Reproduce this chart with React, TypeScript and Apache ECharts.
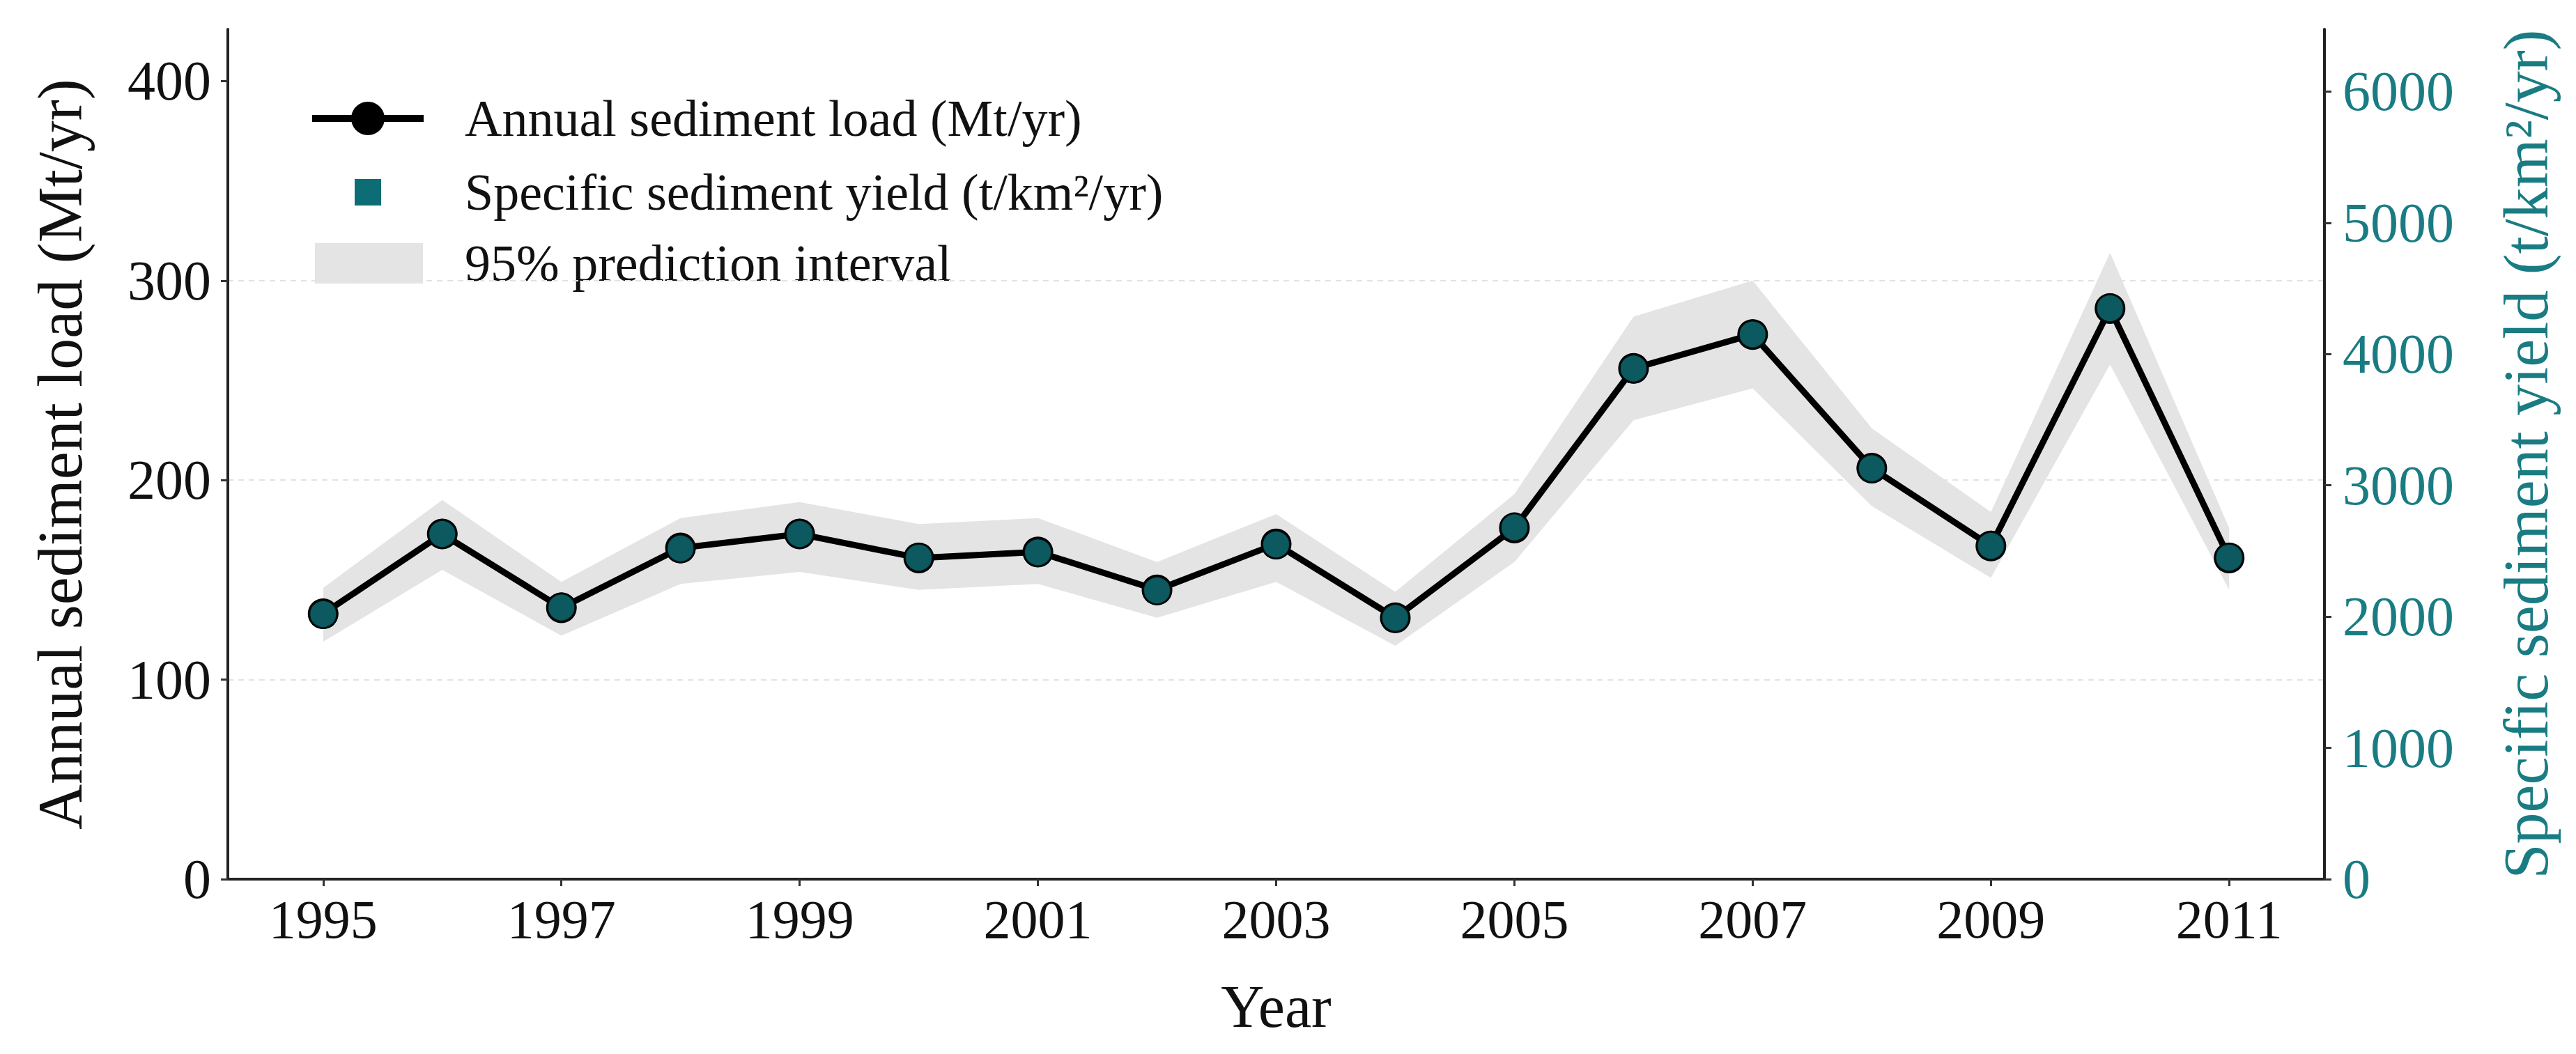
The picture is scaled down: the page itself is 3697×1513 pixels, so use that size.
import React, { useEffect, useRef } from "react";
import * as echarts from "echarts";

// Annual series, 1995–2011
const years = [1995, 1996, 1997, 1998, 1999, 2000, 2001, 2002, 2003, 2004, 2005, 2006, 2007, 2008, 2009, 2010, 2011];
const sedimentLoad = [133, 173, 136, 166, 173, 161, 164, 145, 168, 131, 176, 256, 273, 206, 167, 286, 161];
const specificYield = [2020, 2630, 2070, 2520, 2630, 2450, 2490, 2200, 2550, 1990, 2680, 3890, 4150, 3130, 2540, 4350, 2450];
const intervalLower = [119, 155, 122, 148, 154, 145, 148, 131, 149, 117, 159, 230, 246, 187, 151, 258, 145];
const intervalUpper = [146, 190, 149, 181, 189, 178, 181, 159, 183, 144, 193, 282, 300, 226, 184, 314, 176];

// Axis tick labels
const yearTicks = [1995, 1997, 1999, 2001, 2003, 2005, 2007, 2009, 2011];
const loadTicks = [0, 100, 200, 300, 400];
const yieldTicks = [0, 1000, 2000, 3000, 4000, 5000, 6000];

const legendLabels = [
  "Annual sediment load (Mt/yr)",
  "Specific sediment yield (t/km\u00b2/yr)",
  "95% prediction interval",
];

const FONT = "'Liberation Serif', 'Times New Roman', serif";
const TEAL = "#0f6f77";
const TEAL_TEXT = "#1a7c83";
const BAND = "#e4e4e4";

export default function App() {
  const ref = useRef<HTMLDivElement>(null);

  useEffect(() => {
    if (!ref.current) return;
    const chart = echarts.init(ref.current, undefined, { renderer: "svg" });

    const legendX = 667;
    const rows = [170, 276, 378];

    chart.setOption({
      animation: false,
      backgroundColor: "#ffffff",
      textStyle: { fontFamily: FONT },
      grid: { left: 327, right: 361, top: 42, bottom: 251, containLabel: false },
      xAxis: {
        type: "value",
        min: 1994.2,
        max: 2011.8,
        name: "Year",
        nameLocation: "middle",
        nameGap: 140,
        nameTextStyle: { fontFamily: FONT, fontSize: 86, color: "#111" },
        axisLine: { show: true, lineStyle: { color: "#222", width: 4 } },
        axisTick: { show: true, length: 10, lineStyle: { color: "#333", width: 3 }, customValues: yearTicks },
        axisLabel: {
          customValues: yearTicks,
          fontFamily: FONT,
          fontSize: 78,
          color: "#111",
          margin: 18,
          formatter: (v: number) => String(Math.round(v)),
        },
        splitLine: { show: false },
      },
      yAxis: [
        {
          type: "value",
          min: 0,
          max: 426,
          interval: 100,
          position: "left",
          name: "Annual sediment load (Mt/yr)",
          nameLocation: "middle",
          nameRotate: 90,
          nameGap: 196,
          nameTextStyle: { fontFamily: FONT, fontSize: 90, color: "#111" },
          axisLine: { show: true, lineStyle: { color: "#222", width: 4 } },
          axisTick: { show: true, length: 10, lineStyle: { color: "#333", width: 3 }, customValues: loadTicks },
          axisLabel: {
            customValues: loadTicks,
            fontFamily: FONT,
            fontSize: 80,
            color: "#111",
            margin: 24,
            formatter: (v: number) => String(Math.round(v)),
          },
          splitLine: {
            show: true,
            showMinLine: false,
            showMaxLine: false,
            lineStyle: { color: "#e2e2e2", width: 2, type: [8, 7] },
          },
        },
        {
          type: "value",
          min: 0,
          max: 6475,
          interval: 1000,
          position: "right",
          name: "Specific sediment yield (t/km\u00b2/yr)",
          nameLocation: "middle",
          nameRotate: 90,
          nameGap: 244,
          nameTextStyle: { fontFamily: FONT, fontSize: 90, color: TEAL_TEXT },
          axisLine: { show: true, lineStyle: { color: "#222", width: 4 } },
          axisTick: { show: true, length: 10, lineStyle: { color: "#333", width: 3 }, customValues: yieldTicks },
          axisLabel: {
            customValues: yieldTicks,
            fontFamily: FONT,
            fontSize: 80,
            color: TEAL_TEXT,
            margin: 26,
            formatter: (v: number) => String(Math.round(v)),
          },
          splitLine: { show: false },
        },
      ],
      series: [
        {
          name: legendLabels[2],
          type: "custom",
          silent: true,
          z: 1,
          data: years.map((y, i) => [y, intervalUpper[i]]),
          renderItem: (params: any, api: any) => {
            if (params.dataIndex !== 0) return null;
            const pts: number[][] = [];
            years.forEach((y, i) => pts.push(api.coord([y, intervalUpper[i]])));
            for (let i = years.length - 1; i >= 0; i--) pts.push(api.coord([years[i], intervalLower[i]]));
            return { type: "polygon", shape: { points: pts }, style: { fill: BAND } };
          },
        },
        {
          name: legendLabels[0],
          type: "line",
          z: 2,
          data: years.map((y, i) => [y, sedimentLoad[i]]),
          showSymbol: true,
          symbol: "circle",
          symbolSize: 44,
          itemStyle: { color: "#000" },
          lineStyle: { color: "#000", width: 9 },
        },
        {
          name: legendLabels[1],
          type: "scatter",
          yAxisIndex: 1,
          z: 3,
          data: years.map((y, i) => [y, specificYield[i]]),
          symbol: "circle",
          symbolSize: 40,
          itemStyle: { color: TEAL, borderColor: "#000", borderWidth: 3 },
        },
      ],
      graphic: [
        { type: "line", shape: { x1: 448, y1: rows[0], x2: 608, y2: rows[0] }, style: { stroke: "#000", lineWidth: 10 } },
        { type: "circle", shape: { cx: 528, cy: rows[0], r: 24 }, style: { fill: "#000" } },
        { type: "rect", shape: { x: 509, y: rows[1] - 19, width: 38, height: 38 }, style: { fill: "#0c6d75" } },
        { type: "rect", shape: { x: 452, y: rows[2] - 29, width: 155, height: 58 }, style: { fill: BAND } },
        ...legendLabels.map((t, i) => ({
          type: "text",
          x: legendX,
          y: rows[i],
          style: { text: t, fontFamily: FONT, fontSize: 74, fill: "#111", verticalAlign: "middle" },
        })),
      ],
    });

    return () => chart.dispose();
  }, []);

  return (
    <div
      ref={ref}
      style={{ position: "fixed", left: 0, top: 0, width: 3697, height: 1513, background: "#fff" }}
    />
  );
}
